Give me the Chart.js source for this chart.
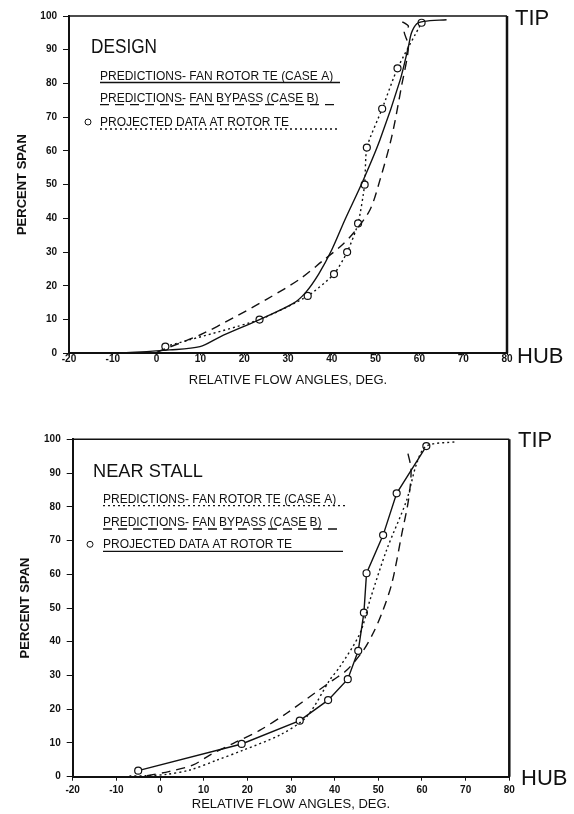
<!DOCTYPE html>
<html>
<head>
<meta charset="utf-8">
<script src="https://cdn.jsdelivr.net/npm/chart.js@4.4.0/dist/chart.umd.min.js"></script>
<style>
    html, body { margin: 0; padding: 0; background: #fff; }
    #wrap { position: relative; width: 574px; height: 814px; }
    .box { position: absolute; left: 0; width: 574px; }
    #topBox { top: 0; height: 400px; }
    #bottomBox { top: 400px; height: 414px; }
</style>
</head>
<body>
<div id="wrap">
    <div class="box" id="topBox"><canvas id="designChart"></canvas></div>
    <div class="box" id="bottomBox"><canvas id="stallChart"></canvas></div>
</div>
<script>
// ---- DESIGN (top plot) ----
var designDataAngle = [2, 23.5, 34.5, 40.5, 43.5, 46, 47.5, 48, 51.5, 55, 60.5];
var designDataSpan  = [2, 10, 17, 23.5, 30, 38.5, 50, 61, 72.5, 84.5, 98];

var designRotorAngle = [-8.4, 3, 9.9, 14.5, 23.5, 31.2, 34, 37, 40, 43, 47.2, 51, 55.6, 57.5, 58.2, 59.4, 61, 66.2];
var designRotorSpan  = [0, 1, 2, 4.9, 10, 14.8, 18, 23.5, 30.7, 39.6, 51.4, 63.3, 81, 91, 95, 97.7, 98.4, 98.9];

var designBypassAngle = [0, 2.3, 10, 17.5, 25.1, 32.7, 38, 41.9, 44.9, 48.7, 51, 53.7, 55.9, 57.5, 56.5, 57.5, 55.5];
var designBypassSpan  = [0.3, 1.5, 5.5, 10.5, 16, 22, 27.5, 31.6, 35.6, 42.5, 51.4, 64.3, 79.1, 91, 95.5, 97, 98.7];

// ---- NEAR STALL (bottom plot) ----
var stallDataAngle = [-5, 18.7, 32, 38.5, 43, 45.4, 46.7, 47.3, 51.1, 54.2, 61];
var stallDataSpan  = [1.8, 9.7, 16.6, 22.7, 28.9, 37.3, 48.6, 60.3, 71.6, 84, 98];

var stallRotorAngle = [-7, -3, 1.5, 6.9, 13, 19.1, 27.5, 33.6, 38.9, 41.2, 45.8, 48.1, 51.9, 56.5, 58.8, 61, 68];
var stallRotorSpan  = [0.2, 0.3, 0.7, 2, 4.9, 7.9, 12.4, 17.8, 28.7, 32.6, 42.5, 52.4, 67.2, 82, 92.9, 98, 99.3];

var stallBypassAngle = [-3, 2, 7.6, 11.4, 16.8, 22.9, 29, 35.9, 39.7, 42.8, 46.6, 48.8, 50.8, 53.1, 55.4, 56.9, 57.5, 56.5];
var stallBypassSpan  = [0.3, 1.5, 3.5, 6.4, 9.9, 13.8, 18.8, 25.2, 28.7, 31.6, 37.5, 42.5, 48.4, 57.3, 72.1, 82, 91, 97.3];

// axis ranges and labels
var angleMin = -20, angleMax = 80, angleStep = 10;
var spanMin = 0, spanMax = 100, spanStep = 10;
var xTitle = 'RELATIVE FLOW ANGLES, DEG.';
var yTitle = 'PERCENT SPAN';
var legendRotor = 'PREDICTIONS- FAN ROTOR TE (CASE A)';
var legendBypass = 'PREDICTIONS- FAN BYPASS (CASE B)';
var legendData = 'PROJECTED DATA AT ROTOR TE';

var ink = '#111';
var FONT = "'Liberation Sans', Arial, sans-serif";

// zip two arrays into {x, y} points
function pts(xs, ys) {
    return xs.map(function (x, i) { return { x: x, y: ys[i] }; });
}

// line styles
var SOLID = [], DASHED = [9, 6], DOTTED = [2, 3];

function lineSet(label, xs, ys, dash, tension, withPoints) {
    return {
        label: label,
        data: pts(xs, ys),
        borderColor: ink,
        borderWidth: 1.4,
        borderDash: dash,
        tension: tension,
        fill: false,
        pointRadius: withPoints ? 3.5 : 0,
        pointBorderWidth: 1.2,
        pointBorderColor: ink,
        pointBackgroundColor: '#fff'
    };
}

// draws the frame, the in-plot legend and the TIP / HUB marks
function notesPlugin(cfg) {
    return {
        id: 'notes',
        afterDraw: function (chart) {
            var c = chart.ctx, a = chart.chartArea;
            c.save();
            c.strokeStyle = ink;
            c.fillStyle = ink;
            // top and right edges of the box
            c.setLineDash([]);
            c.lineWidth = 1.5;
            c.beginPath();
            c.moveTo(a.left, a.top);
            c.lineTo(a.right, a.top);
            c.stroke();
            c.lineWidth = 2.5;
            c.beginPath();
            c.moveTo(a.right, a.top);
            c.lineTo(a.right, a.bottom);
            c.stroke();

            // case title
            c.font = cfg.titleSize + 'px ' + FONT;
            c.textBaseline = 'alphabetic';
            c.fillText(cfg.title, cfg.titleX, cfg.titleY, cfg.titleW);

            // legend rows
            c.font = '12px ' + FONT;
            cfg.rows.forEach(function (r) {
                c.fillText(r.text, cfg.textX, r.y);
                c.lineWidth = 1.3;
                c.setLineDash(r.dash);
                c.beginPath();
                c.moveTo(cfg.textX, r.y + 3);
                c.lineTo(r.end, r.y + 3);
                c.stroke();
                if (r.mark) {
                    c.setLineDash([]);
                    c.lineWidth = 1;
                    c.beginPath();
                    c.arc(cfg.markX, r.y - 4, 3, 0, Math.PI * 2);
                    c.stroke();
                }
            });

            // TIP / HUB
            c.setLineDash([]);
            c.font = '22px ' + FONT;
            c.fillText('TIP', cfg.tipX, cfg.tipY);
            c.fillText('HUB', cfg.hubX, cfg.hubY);
            c.restore();
        }
    };
}

function makeChart(id, sets, geo, cfg) {
    var ctx = document.getElementById(id).getContext('2d');
    return new Chart(ctx, {
        type: 'line',
        data: { datasets: sets },
        options: {
            responsive: true,
            maintainAspectRatio: false,
            animation: false,
            layout: { padding: { left: 0, right: geo.padRight, top: geo.padTop, bottom: 0 } },
            plugins: { legend: { display: false }, tooltip: { enabled: false } },
            scales: {
                x: {
                    type: 'linear',
                    min: angleMin,
                    max: angleMax,
                    ticks: { stepSize: angleStep, color: ink, padding: geo.xTickPad, maxRotation: 0,
                             font: { size: 10, weight: 'bold', family: FONT } },
                    grid: { drawOnChartArea: false, tickLength: geo.xTickLen, color: ink },
                    border: { color: ink, width: 2 },
                    title: { display: true, text: xTitle, color: ink,
                             font: { size: 13, family: FONT }, padding: { top: 0, bottom: geo.xTitlePad } },
                    afterFit: function (s) { s.height = geo.xHeight; }
                },
                y: {
                    type: 'linear',
                    min: spanMin,
                    max: spanMax,
                    ticks: { stepSize: spanStep, color: ink, padding: 6,
                             font: { size: 10, weight: 'bold', family: FONT } },
                    grid: { drawOnChartArea: false, tickLength: 6, color: ink },
                    border: { color: ink, width: 2 },
                    title: { display: true, text: yTitle, color: ink,
                             font: { size: 13, weight: 'bold', family: FONT }, padding: { top: geo.yTitlePad, bottom: 0 } },
                    afterFit: function (s) { s.width = geo.yWidth; }
                }
            }
        },
        plugins: [notesPlugin(cfg)]
    });
}

// top: rotor prediction solid, bypass dashed, data dotted
makeChart('designChart', [
    lineSet('Case A', designRotorAngle, designRotorSpan, SOLID, 0.3, false),
    lineSet('Case B', designBypassAngle, designBypassSpan, DASHED, 0.3, false),
    lineSet('Data', designDataAngle, designDataSpan, DOTTED, 0.2, true)
], {
    padRight: 67, padTop: 16, xHeight: 46.7, xTickLen: 2, xTickPad: -2,
    xTitlePad: 12.2, yWidth: 69, yTitlePad: 14.2
}, {
    title: 'DESIGN', titleSize: 19.5, titleX: 91, titleY: 53, titleW: 66,
    textX: 100, markX: 88,
    rows: [
        { text: legendRotor, y: 79.5, end: 340, dash: SOLID },
        { text: legendBypass, y: 101.7, end: 337, dash: DASHED },
        { text: legendData, y: 126, end: 340, dash: DOTTED, mark: true }
    ],
    tipX: 515, tipY: 25, hubX: 517, hubY: 363
});

// bottom: rotor prediction dotted, bypass dashed, data solid
makeChart('stallChart', [
    lineSet('Case A', stallRotorAngle, stallRotorSpan, DOTTED, 0.3, false),
    lineSet('Case B', stallBypassAngle, stallBypassSpan, DASHED, 0.3, false),
    lineSet('Data', stallDataAngle, stallDataSpan, SOLID, 0, true)
], {
    padRight: 64.7, padTop: 39.3, xHeight: 37.3, xTickLen: 4, xTickPad: 4,
    xTitlePad: 2.2, yWidth: 72.7, yTitlePad: 17.2
}, {
    title: 'NEAR STALL', titleSize: 18.5, titleX: 93, titleY: 77, titleW: 110,
    textX: 103, markX: 90,
    rows: [
        { text: legendRotor, y: 102.7, end: 345, dash: DOTTED },
        { text: legendBypass, y: 126, end: 338, dash: DASHED },
        { text: legendData, y: 148.3, end: 343, dash: SOLID, mark: true }
    ],
    tipX: 518, tipY: 47, hubX: 521, hubY: 385
});
</script>
</body>
</html>
